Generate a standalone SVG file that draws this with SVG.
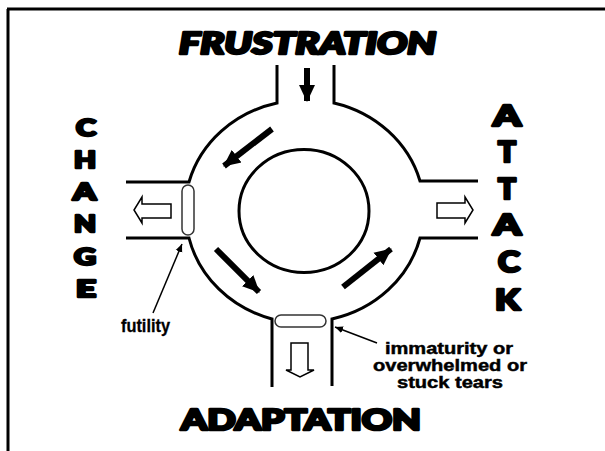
<svg xmlns="http://www.w3.org/2000/svg" width="605" height="451" viewBox="0 0 605 451">
<style>
.frame{stroke:#000;stroke-width:3;fill:none}
.road{stroke:#000;stroke-width:3;fill:none;stroke-linejoin:miter}
.hollow{stroke:#000;stroke-width:1.5;fill:#fff}
.capsule{stroke:#333;stroke-width:1.5;fill:#fff}
.flow{stroke:#000;stroke-width:6;fill:none}
.pointer{stroke:#000;stroke-width:1.5;fill:none}
.head{font-family:Lato,"DejaVu Sans",sans-serif;font-weight:900;fill:#000;stroke:#000;stroke-width:2.6;stroke-linejoin:round}
.label{font-family:"Liberation Sans",Arial,sans-serif;font-weight:bold;font-size:17.5px;fill:#000;stroke:#000;stroke-width:0.3}
.cause{font-size:16px;stroke-width:0.45}
</style>
<defs>
<marker id="bigHead" markerUnits="userSpaceOnUse" markerWidth="18" markerHeight="18" viewBox="0 0 18 18" refX="16" refY="9" orient="auto">
<path d="M0,1 L17,9 L0,17 Z" fill="#000"/>
</marker>
<marker id="smallHead" markerUnits="userSpaceOnUse" markerWidth="9" markerHeight="9" viewBox="0 0 9 9" refX="8" refY="4.5" orient="auto">
<path d="M0,1 L8,4.5 L0,8 Z" fill="#000"/>
</marker>
</defs>
<rect width="605" height="451" fill="#fff"/>
<g id="frame">
<path class="frame" d="M7,9 L605,9 M8,9 L8,451"/>
</g>
<g id="roundabout">
<path class="road" d="M277,65 L277,103 A119.5 111.2 0 0 0 189,182 L126,182"/>
<path class="road" d="M334,65 L334,103 A119.5 111.2 0 0 1 420,181 L478,181"/>
<path class="road" d="M126,238 L189,238 A119.5 111.2 0 0 0 272,319 L272,387"/>
<path class="road" d="M332,386 L332,319 A119.5 111.2 0 0 0 420,238 L478,238"/>
<ellipse class="road" cx="304" cy="211" rx="65" ry="61.5"/>
</g>
<g id="barriers">
<rect class="capsule" x="182" y="185" width="12" height="50" rx="6"/>
<rect class="capsule" x="275" y="315" width="51" height="12" rx="6"/>
</g>
<g id="exit-arrows">
<path class="hollow" d="M171,204 L142,204 L142,197 L134,210 L142,223 L142,218 L171,218 Z"/>
<path class="hollow" d="M437,203 L465,203 L465,197 L473,210 L465,223 L465,218 L437,218 Z"/>
<path class="hollow" d="M291,343 L308,343 L308,370 L314,370 L300,377 L286,370 L291,370 Z"/>
</g>
<g id="connectors">
<path class="flow" d="M307,68 L307,101" marker-end="url(#bigHead)"/>
<path class="flow" d="M272,129 L224,166" marker-end="url(#bigHead)"/>
<path class="flow" d="M216,249 L259,292" marker-end="url(#bigHead)"/>
<path class="flow" d="M343,287 L391,249" marker-end="url(#bigHead)"/>
<path class="pointer" d="M153,313 L182,244" marker-end="url(#smallHead)"/>
<path class="pointer" d="M377,343 L335,327" marker-end="url(#smallHead)"/>
</g>
<g id="frustration">
<text class="head" x="179" y="54" font-size="30" font-style="italic" textLength="257" lengthAdjust="spacingAndGlyphs">FRUSTRATION</text>
</g>
<g id="adaptation">
<text class="head" x="181" y="430" font-size="28" textLength="240" lengthAdjust="spacingAndGlyphs">ADAPTATION</text>
</g>
<g id="change" class="head" font-size="23">
<text x="76" y="136" textLength="20" lengthAdjust="spacingAndGlyphs">C</text>
<text x="74" y="168" textLength="22" lengthAdjust="spacingAndGlyphs">H</text>
<text x="73" y="200" textLength="23" lengthAdjust="spacingAndGlyphs">A</text>
<text x="74" y="232" textLength="22" lengthAdjust="spacingAndGlyphs">N</text>
<text x="74" y="265" textLength="22" lengthAdjust="spacingAndGlyphs">G</text>
<text x="76" y="297" textLength="20" lengthAdjust="spacingAndGlyphs">E</text>
</g>
<g id="attack" class="head" font-size="28">
<text x="493" y="126" textLength="28" lengthAdjust="spacingAndGlyphs">A</text>
<text x="498" y="162" textLength="18" lengthAdjust="spacingAndGlyphs">T</text>
<text x="498" y="199" textLength="18" lengthAdjust="spacingAndGlyphs">T</text>
<text x="493" y="235" textLength="28" lengthAdjust="spacingAndGlyphs">A</text>
<text x="498" y="272" textLength="22" lengthAdjust="spacingAndGlyphs">C</text>
<text x="495" y="310" textLength="25" lengthAdjust="spacingAndGlyphs">K</text>
</g>
<g id="futility">
<text class="label" x="121" y="332" textLength="49" lengthAdjust="spacingAndGlyphs">futility</text>
</g>
<g id="causes">
<text class="label cause" x="385" y="354" textLength="128" lengthAdjust="spacingAndGlyphs">immaturity or</text>
<text class="label cause" x="373" y="371" textLength="154" lengthAdjust="spacingAndGlyphs">overwhelmed or</text>
<text class="label cause" x="397" y="388" textLength="106" lengthAdjust="spacingAndGlyphs">stuck tears</text>
</g>
</svg>
